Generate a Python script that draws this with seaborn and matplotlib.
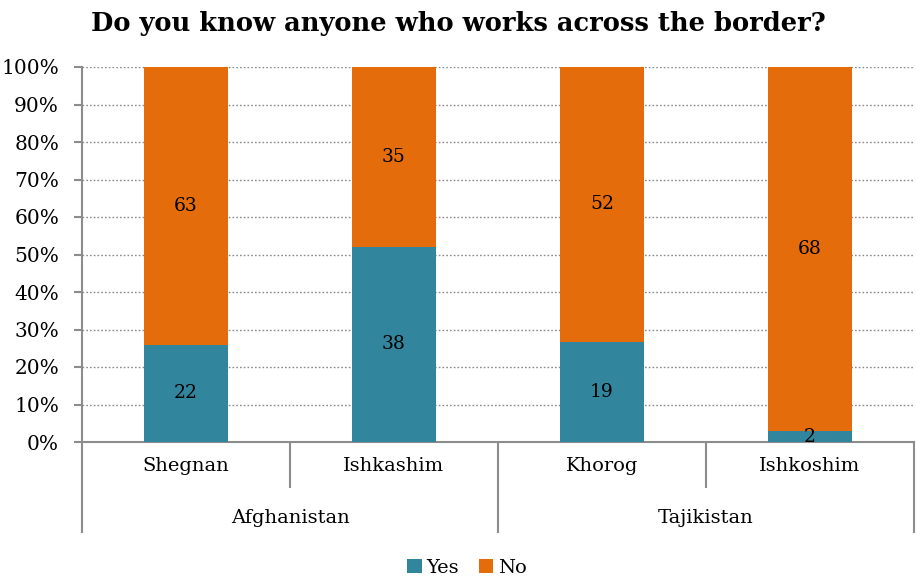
import seaborn as sns
import matplotlib.pyplot as plt
import pandas as pd

# data
locations = ["Shegnan", "Ishkashim", "Khorog", "Ishkoshim"]
countries = ["Afghanistan", "Afghanistan", "Tajikistan", "Tajikistan"]
yes_counts = [22, 38, 19, 2]
no_counts = [63, 35, 52, 68]
y_ticks = [0, 10, 20, 30, 40, 50, 60, 70, 80, 90, 100]

YES_COLOR = "#31859C"
NO_COLOR = "#E46C0A"
GREY = "#8C8C8C"
TEXT = "#000000"


def main():
    sns.set_style("white")
    plt.rcParams["font.family"] = ["DejaVu Serif"]
    plt.rcParams["text.color"] = TEXT

    df = pd.DataFrame({"location": locations, "country": countries,
                       "yes": yes_counts, "no": no_counts})
    df["total"] = df["yes"] + df["no"]
    df["yes_pct"] = df["yes"] / df["total"] * 100
    df["all_pct"] = (df["yes"] + df["no"]) / df["total"] * 100

    fig = plt.figure(figsize=(9.16, 5.8), dpi=100)
    ax = fig.add_axes([82 / 916, 138 / 580, 832 / 916, 375 / 580])

    # stacked bars: full bar in orange, yes part drawn over it
    sns.barplot(data=df, x="location", y="all_pct", color=NO_COLOR,
                width=0.4, saturation=1, ax=ax, zorder=3, label="No",
                linewidth=0)
    sns.barplot(data=df, x="location", y="yes_pct", color=YES_COLOR,
                width=0.4, saturation=1, ax=ax, zorder=4, label="Yes",
                linewidth=0)
    if ax.get_legend() is not None:
        ax.get_legend().remove()

    # count labels in the middle of each segment
    for i, row in df.iterrows():
        ax.text(i, row["yes_pct"] / 2, str(row["yes"]), ha="center",
                va="center", fontsize=13.5, color=TEXT, zorder=5)
        ax.text(i, (row["yes_pct"] + row["all_pct"]) / 2, str(row["no"]),
                ha="center", va="center", fontsize=13.5, color=TEXT,
                zorder=5)

    ax.set_xlim(-0.5, len(locations) - 0.5)
    ax.set_ylim(0, 100)
    ax.set_yticks(y_ticks)
    ax.set_yticklabels([f"{t}%" for t in y_ticks], fontsize=14.5)
    ax.yaxis.grid(True, linestyle=(0, (1.2, 1.5)), color="#8A8A8A",
                  linewidth=1)
    ax.set_axisbelow(True)
    ax.set_xticks([])
    ax.set_xlabel("")
    ax.set_ylabel("")
    for side in ["top", "right"]:
        ax.spines[side].set_visible(False)
    for side in ["left", "bottom"]:
        ax.spines[side].set_color(GREY)
        ax.spines[side].set_linewidth(1.5)
    ax.tick_params(axis="y", which="both", left=True, length=6,
                   width=1.5, color=GREY, pad=10.5, labelcolor=TEXT)

    # two-level category axis
    trans = ax.get_xaxis_transform()
    n = len(locations)
    for k in range(n + 1):
        x = k - 0.5
        if k == 0 or k == n or countries[k - 1] != countries[k]:
            y_end = -0.243
        else:
            y_end = -0.123
        ax.plot([x, x], [0, y_end], transform=trans, color=GREY,
                linewidth=1.5, clip_on=False, solid_capstyle="butt")
    for i, loc in enumerate(locations):
        ax.text(i, -0.064, loc, transform=trans, ha="center", va="center",
                fontsize=14, color=TEXT)
    groups = df.groupby("country", sort=False).apply(
        lambda g: g.index.to_series().mean(), include_groups=False)
    for name, center in groups.items():
        ax.text(center, -0.203, name, transform=trans, ha="center",
                va="center", fontsize=14, color=TEXT)

    fig.text(0.5, 1 - 24 / 580, "Do you know anyone who works across the border?",
             ha="center", va="center", fontsize=18.5, fontweight="bold",
             color=TEXT)

    handles, labels = ax.get_legend_handles_labels()
    order = [labels.index("Yes"), labels.index("No")]
    fig.legend([handles[i] for i in order], [labels[i] for i in order],
               loc="center", bbox_to_anchor=(467 / 916, 1 - 568 / 580),
               ncol=2, frameon=False, fontsize=14, handlelength=0.75,
               handleheight=0.75, handletextpad=0.25, columnspacing=1.0)

    fig.savefig("out.png", dpi=100)


if __name__ == "__main__":
    main()
